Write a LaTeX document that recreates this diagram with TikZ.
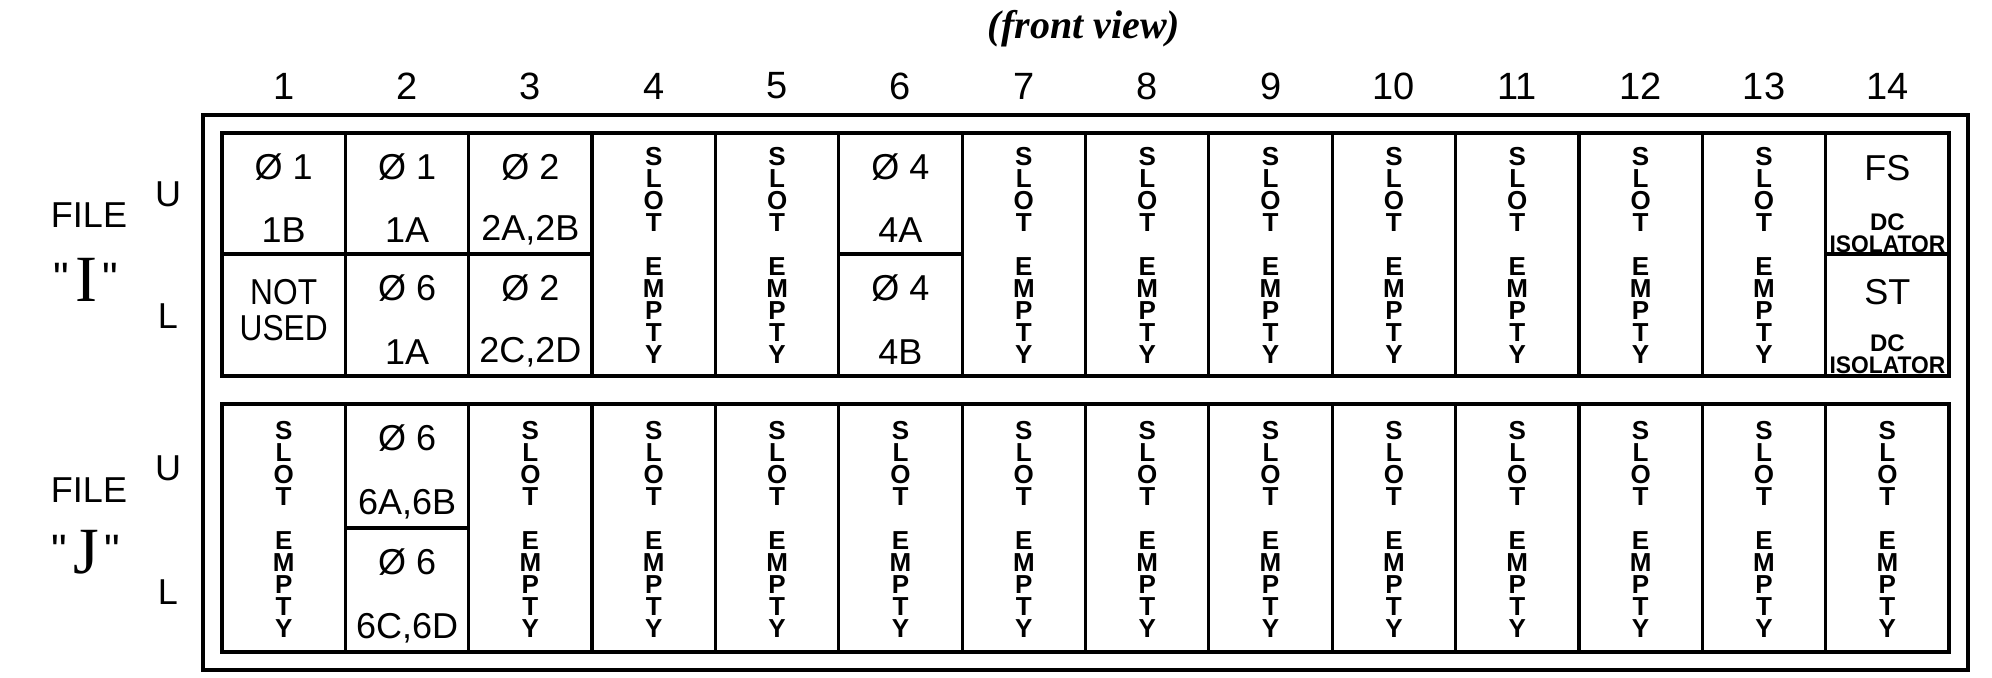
\documentclass[tikz,border=0pt]{standalone}
\usepackage{fontspec}
\usepackage{graphicx}
\setmainfont{Liberation Sans}
\newfontfamily\seriffont{Liberation Serif}
\newfontfamily\rawsans{Liberation Sans}[Ligatures=TeXOff]
\newcommand\slotempty{S\\L\\O\\T\\[11pt]E\\M\\P\\T\\Y}
\newcommand\bigletter[1]{{\rawsans\fontsize{22}{22}\selectfont\raisebox{4pt}{"}}\hspace{3pt}{\seriffont\fontsize{33}{33}\selectfont #1}\hspace{3pt}{\rawsans\fontsize{22}{22}\selectfont\raisebox{4pt}{"}}}
\begin{document}
\begin{tikzpicture}[x=0.5pt,y=-0.5pt,
  boxline/.style={line width=2pt},
  divline/.style={line width=1.6pt},
  num/.style={font=\fontsize{19}{19}\selectfont, inner sep=0pt},
  celltext/.style={font=\fontsize{18}{18}\selectfont, inner sep=0pt},
  lbl/.style={font=\fontsize{18}{18}\selectfont, inner sep=0pt},
  slottext/.style={font=\fontsize{13}{11}\selectfont\bfseries, align=center, inner sep=0pt},
  iso/.style={font=\fontsize{12}{12}\selectfont\bfseries, inner sep=0pt},
  titletext/.style={font=\seriffont\bfseries\itshape\fontsize{20}{20}\selectfont, inner sep=0pt}]
\useasboundingbox (0,0) rectangle (1992,678);
\def\cw{123.36}
% title
\node[titletext] (title) at (1084,29) {(front view)};
% column numbers
\foreach \i in {1,...,14} \node[num] (n\i) at ({222+\cw*(\i-0.5)},86) {\i};
% boxes
\draw[boxline] (203,115) rectangle (1968,670);
\draw[boxline] (222,133) rectangle (1949,376);
\draw[boxline] (222,404) rectangle (1949,652);
\foreach \i in {1,...,13} {
  \draw[divline] ({222+\cw*\i},133) -- ({222+\cw*\i},376);
  \draw[divline] ({222+\cw*\i},404) -- ({222+\cw*\i},652);
}
% horizontal splits
\draw[divline] (222,254) -- ({222+3*\cw},254);
\draw[divline] ({222+5*\cw},254) -- ({222+6*\cw},254);
\draw[divline] ({222+13*\cw},254) -- (1949,254);
\draw[divline] ({222+\cw},528) -- ({222+2*\cw},528);
% file labels
\node[lbl] (fileI) at (89,215) {FILE};
\node[inner sep=0pt] (nameI) at (86,280) {\bigletter{I}};
\node[lbl] (uI) at (168,194) {U};
\node[lbl] (lI) at (168,316) {L};
\node[lbl] (fileJ) at (89,490) {FILE};
\node[inner sep=0pt] (nameJ) at (86,552) {\bigletter{J}};
\node[lbl] (uJ) at (168,468) {U};
\node[lbl] (lJ) at (168,592) {L};
% slot empty cells
\foreach \i in {4,5,7,8,9,10,11,12,13}
  \node[slottext] (su\i) at ({222+\cw*(\i-0.5)},255) {\slotempty};
\foreach \i in {1,3,4,5,6,7,8,9,10,11,12,13,14}
  \node[slottext] (sl\i) at ({222+\cw*(\i-0.5)},529) {\slotempty};
% upper file cells
\node[celltext] (a1) at ({222+\cw*0.5},167) {Ø 1};
\node[celltext] (b1) at ({222+\cw*0.5},230) {1B};
\node[celltext] (c1) at ({222+\cw*0.5},315) {\scalebox{0.88}[1]{\begin{tabular}{@{}c@{}}NOT\\USED\end{tabular}}};
\node[celltext] (a2) at ({222+\cw*1.5},167) {Ø 1};
\node[celltext] (b2) at ({222+\cw*1.5},230) {1A};
\node[celltext] (c2) at ({222+\cw*1.5},288) {Ø 6};
\node[celltext] (d2) at ({222+\cw*1.5},352) {1A};
\node[celltext] (a3) at ({222+\cw*2.5},167) {Ø 2};
\node[celltext] (b3) at ({222+\cw*2.5},230) {2A,2B};
\node[celltext] (c3) at ({222+\cw*2.5},288) {Ø 2};
\node[celltext] (d3) at ({222+\cw*2.5},352) {2C,2D};
\node[celltext] (a6) at ({222+\cw*5.5},167) {Ø 4};
\node[celltext] (b6) at ({222+\cw*5.5},230) {4A};
\node[celltext] (c6) at ({222+\cw*5.5},288) {Ø 4};
\node[celltext] (d6) at ({222+\cw*5.5},352) {4B};
\node[celltext] (a14) at ({222+\cw*13.5},168) {FS};
\node[iso] (b14) at ({222+\cw*13.5},222) {DC};
\node[iso] (c14) at ({222+\cw*13.5},244) {\scalebox{0.95}[1]{ISOLATOR}};
\node[celltext] (d14) at ({222+\cw*13.5},292) {ST};
\node[iso] (e14) at ({222+\cw*13.5},343) {DC};
\node[iso] (f14) at ({222+\cw*13.5},365) {\scalebox{0.95}[1]{ISOLATOR}};
% lower file cells
\node[celltext] (g2) at ({222+\cw*1.5},438) {Ø 6};
\node[celltext] (h2) at ({222+\cw*1.5},504) {6A,6B};
\node[celltext] (i2) at ({222+\cw*1.5},562) {Ø 6};
\node[celltext] (j2) at ({222+\cw*1.5},628) {6C,6D};
\end{tikzpicture}
\end{document}
